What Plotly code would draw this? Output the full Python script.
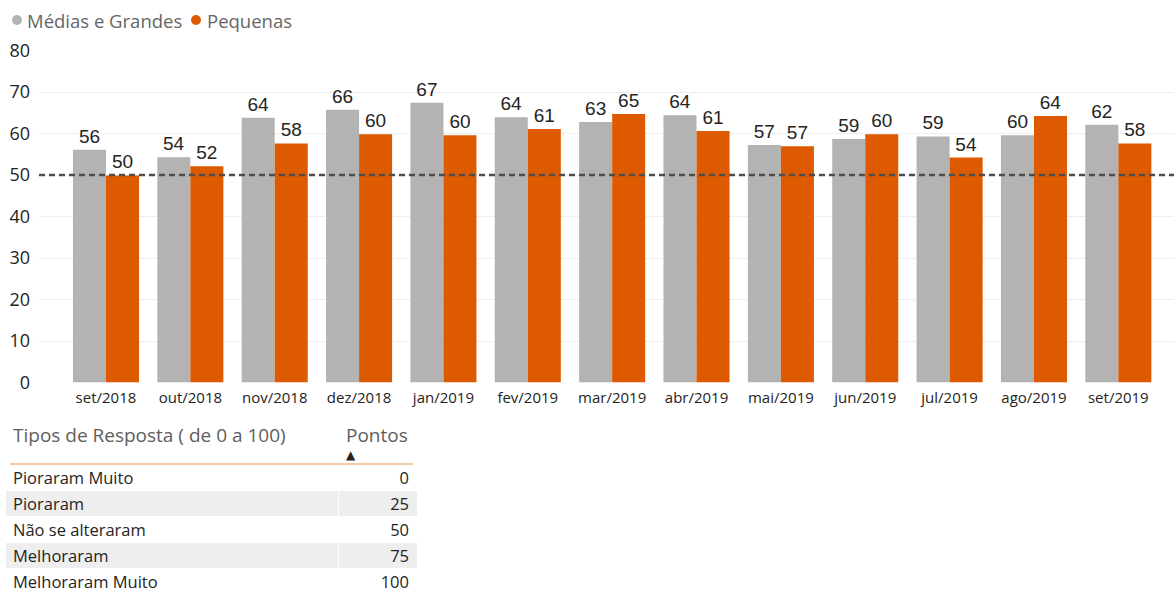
import plotly.graph_objects as go

meses = ['set/2018', 'out/2018', 'nov/2018', 'dez/2018', 'jan/2019', 'fev/2019', 'mar/2019',
         'abr/2019', 'mai/2019', 'jun/2019', 'jul/2019', 'ago/2019', 'set/2019']
medias_grandes = [56.1, 54.3, 63.8, 65.7, 67.4, 63.9, 62.8, 64.4, 57.2, 58.7, 59.3, 59.6, 62.1]
pequenas = [49.9, 52.1, 57.6, 59.8, 59.6, 61.1, 64.7, 60.6, 56.9, 59.8, 54.2, 64.2, 57.6]

series_nomes = ['Médias e Grandes', 'Pequenas']

tipos_resposta = ['Pioraram Muito', 'Pioraram', 'Não se alteraram', 'Melhoraram', 'Melhoraram Muito']
pontos = [0, 25, 50, 75, 100]

linha_referencia = 50
y_ticks = [0, 10, 20, 30, 40, 50, 60, 70, 80]

GREY = '#B3B3B3'
ORANGE = '#DD5A00'
FONT = 'Open Sans'
W, H = 1174, 591


def fx(px):
    return px / W


def fy(py):
    return 1 - py / H


fig = go.Figure()
for name, vals, col in [(series_nomes[0], medias_grandes, GREY), (series_nomes[1], pequenas, ORANGE)]:
    fig.add_trace(go.Bar(
        x=meses, y=vals, name=name, marker=dict(color=col, line=dict(width=0)),
        text=vals, texttemplate='%{y:.0f}', textposition='outside',
        textfont=dict(family='Liberation Sans', size=19, color='#252423'),
        constraintext='none', cliponaxis=False, showlegend=False,
    ))

fig.add_trace(go.Table(
    domain=dict(x=[fx(5), fx(417)], y=[0, fy(420)]),
    columnwidth=[333, 79],
    header=dict(
        values=['Tipos de Resposta ( de 0 a 100)', 'Pontos'],
        align=['left', 'left'], fill_color='white', line=dict(color='white', width=1),
        font=dict(family=FONT, size=19, color='#605E5C'), height=44,
    ),
    cells=dict(
        values=[tipos_resposta, pontos],
        align=['left', 'right'],
        fill_color=[['white' if i % 2 == 0 else '#EEEEEE' for i in range(len(pontos))]] * 2,
        line=dict(color='white', width=1),
        font=dict(family=FONT, size=16.5, color='#252423'), height=26,
    ),
))

# reference line at 50
fig.add_shape(type='line', xref='x domain', yref='y', x0=0, x1=1, y0=linha_referencia, y1=linha_referencia,
              line=dict(color='#4D4D4D', width=2.5, dash='6px,4px'), layer='above')
# table header underline and sort indicator
fig.add_shape(type='line', xref='paper', yref='paper', x0=fx(10), x1=fx(413),
              y0=fy(464), y1=fy(464), line=dict(color='#F5CBA7', width=2), layer='above')
fig.add_annotation(xref='paper', yref='paper', x=fx(351), y=fy(455), xanchor='center', yanchor='middle',
                   showarrow=False, text='▲', font=dict(family='DejaVu Sans', size=12, color='#252423'))

# legend (circle markers + labels)
for cx, tx, nm, col in [(17, 26, series_nomes[0], GREY), (196, 206, series_nomes[1], ORANGE)]:
    fig.add_shape(type='circle', xref='paper', yref='paper', x0=fx(cx - 5), x1=fx(cx + 5),
                  y0=fy(20 + 5), y1=fy(20 - 5), fillcolor=col, line=dict(width=0), layer='above')
    fig.add_annotation(xref='paper', yref='paper', x=fx(tx - 1), y=fy(20), xanchor='left', yanchor='middle',
                       showarrow=False, text=nm, font=dict(family=FONT, size=18.5, color='#666666'))

fig.update_layout(
    width=W, height=H, margin=dict(l=0, r=0, t=0, b=0),
    paper_bgcolor='white', plot_bgcolor='white',
    barmode='group', bargap=0.217, bargroupgap=0,
    font=dict(family=FONT),
    xaxis=dict(domain=[fx(39), 1], range=[-0.794, 12.66], showgrid=False, zeroline=False, showline=False,
               ticks='', tickfont=dict(family=FONT, size=15, color='#252423'), ticklabelstandoff=4,
               automargin=False),
    yaxis=dict(domain=[fy(382.5), fy(50.5)], range=[0, 80], tickvals=y_ticks,
               showgrid=True, gridcolor='#EEEEEE', gridwidth=1, zeroline=False, showline=False,
               ticks='', tickfont=dict(family=FONT, size=18, color='#252423'), ticklabelstandoff=8,
               automargin=False),
)

fig.write_html('out.html', config={'displayModeBar': False},
               post_script="document.body.style.margin='0px';")
